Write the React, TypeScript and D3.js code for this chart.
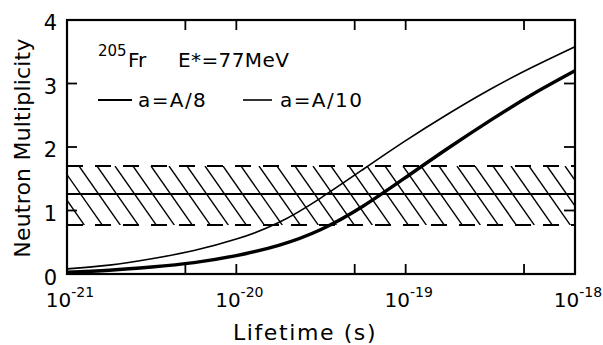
import React from "react";
import * as d3 from "d3";

// log10 of lifetime (s) at which the curves are sampled
const logLifetimes = [-21, -20.75, -20.5, -20.25, -20, -19.75, -19.5, -19.25, -19, -18.75, -18.5, -18.25, -18];
// a = A/8 (thick curve)
const multA8 = [0.03, 0.06, 0.11, 0.18, 0.29, 0.45, 0.7, 1.07, 1.52, 1.98, 2.42, 2.83, 3.2];
// a = A/10 (thin curve)
const multA10 = [0.08, 0.14, 0.24, 0.37, 0.55, 0.81, 1.2, 1.65, 2.1, 2.52, 2.91, 3.26, 3.58];

// experimental band
const bandLow = 0.77;
const bandHigh = 1.7;
const bandCenter = 1.26;

const majorExps = [-21, -20, -19, -18];
const minorTicks = [5e-21, 5e-20, 5e-19];
const yTicks = [0, 1, 2, 3, 4];

const W = 603;
const H = 345;
const L = 67, R = 575, T = 20, B = 274;
const FONT = "DejaVu Sans";

export default function App() {
  const x = d3.scaleLog().domain([1e-21, 1e-18]).range([L, R]);
  const y = d3.scaleLinear().domain([0, 4]).range([B, T]);

  const line = d3
    .line<[number, number]>()
    .x((d) => x(Math.pow(10, d[0])))
    .y((d) => y(d[1]))
    .curve(d3.curveNatural);

  const pathA8 = line(logLifetimes.map((l, i) => [l, multA8[i]] as [number, number])) || "";
  const pathA10 = line(logLifetimes.map((l, i) => [l, multA10[i]] as [number, number])) || "";

  const yTop = y(bandHigh);
  const yBot = y(bandLow);
  const hatchDx = (yBot - yTop) * 0.7;
  const hatchStarts = d3.range(L - 60, R + 20, 18);

  const tickLen = 10;

  return (
    <svg
      width={W}
      height={H}
      style={{ position: "absolute", left: 0, top: 0, background: "#fff" }}
      fontFamily={FONT}
    >
      <defs>
        <clipPath id="band">
          <rect x={L} y={yTop} width={R - L} height={yBot - yTop} />
        </clipPath>
      </defs>

      {/* hatch */}
      <g clipPath="url(#band)" stroke="#000" strokeWidth={1.4}>
        {hatchStarts.map((s, i) => (
          <line key={i} x1={s} y1={yTop} x2={s + hatchDx} y2={yBot} />
        ))}
      </g>
      <line x1={L} x2={R} y1={yTop} y2={yTop} stroke="#000" strokeWidth={2} strokeDasharray="16 12" />
      <line x1={L} x2={R} y1={yBot} y2={yBot} stroke="#000" strokeWidth={2} strokeDasharray="16 12" />
      <line x1={L} x2={R} y1={y(bandCenter)} y2={y(bandCenter)} stroke="#000" strokeWidth={2} />

      {/* curves */}
      <path d={pathA10} fill="none" stroke="#000" strokeWidth={1.6} />
      <path d={pathA8} fill="none" stroke="#000" strokeWidth={3.4} />

      {/* frame */}
      <rect x={L} y={T} width={R - L} height={B - T} fill="none" stroke="#000" strokeWidth={2.2} />

      {/* x ticks (bottom and top, inward) */}
      {[...majorExps.map((e) => Math.pow(10, e)), ...minorTicks].map((v, i) => (
        <g key={i} stroke="#000" strokeWidth={1.8}>
          <line x1={x(v)} x2={x(v)} y1={B} y2={B - tickLen} />
          <line x1={x(v)} x2={x(v)} y1={T} y2={T + tickLen} />
        </g>
      ))}
      {/* y ticks (left and right, inward) */}
      {yTicks.map((v) => (
        <g key={v} stroke="#000" strokeWidth={1.8}>
          <line x1={L} x2={L + tickLen} y1={y(v)} y2={y(v)} />
          <line x1={R} x2={R - tickLen - 1} y1={y(v)} y2={y(v)} />
        </g>
      ))}

      {/* y tick labels */}
      {yTicks.map((v) => (
        <text key={v} x={57} y={y(v) + (v === 0 ? 11 : 10)} textAnchor="end" fontSize={21}>
          {v}
        </text>
      ))}

      {/* x tick labels */}
      {majorExps.map((e) => (
        <text key={e} x={x(Math.pow(10, e)) + 3} y={307} textAnchor="middle" fontSize={20}>
          <tspan>10</tspan>
          <tspan dy={-10} fontSize={14}>{"-" + Math.abs(e)}</tspan>
        </text>
      ))}

      {/* axis titles */}
      <text x={305} y={340} textAnchor="middle" fontSize={22} letterSpacing={1.6}>
        Lifetime (s)
      </text>
      <text
        transform={`translate(30,148) rotate(-90)`}
        textAnchor="middle"
        fontSize={22}
        letterSpacing={0.2}
      >
        Neutron Multiplicity
      </text>

      {/* annotation */}
      <text x={98} y={56} fontSize={15}>205</text>
      <text x={128} y={67} fontSize={20}>Fr</text>
      <text x={178} y={67} fontSize={20} letterSpacing={0.4}>E*=77MeV</text>

      {/* legend */}
      <line x1={98} x2={132} y1={100} y2={100} stroke="#000" strokeWidth={2.2} />
      <text x={138} y={107} fontSize={20} letterSpacing={1.4}>a=A/8</text>
      <line x1={243} x2={272} y1={100} y2={100} stroke="#000" strokeWidth={1.6} />
      <text x={280} y={107} fontSize={20} letterSpacing={1.4}>a=A/10</text>
    </svg>
  );
}
